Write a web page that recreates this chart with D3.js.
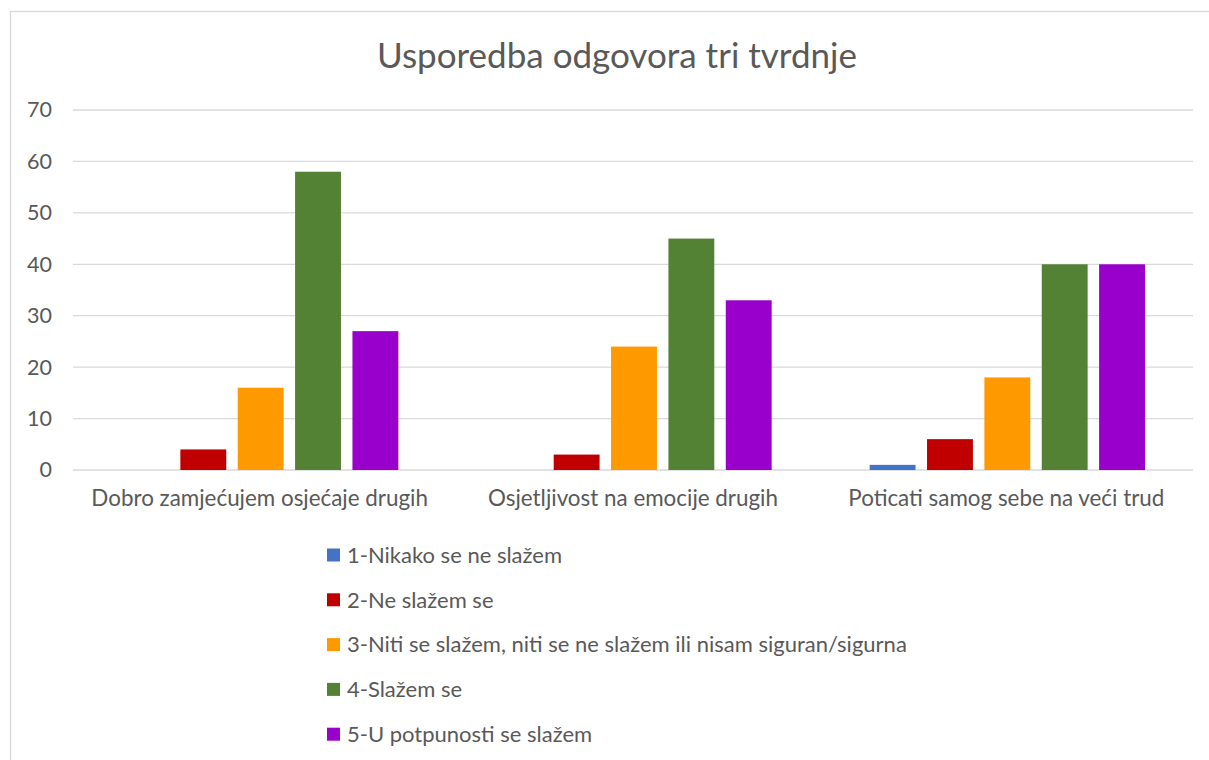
<!DOCTYPE html>
<html>
<head>
<meta charset="utf-8">
<script src="https://cdn.jsdelivr.net/npm/d3@7"></script>
<style>
  body { margin: 0; background: #fff; }
  text { font-family: Lato, "Open Sans", sans-serif; fill: #595959; }
</style>
</head>
<body>
<div id="chart"></div>
<script>
const categories = [
    "Dobro zamjećujem osjećaje drugih",
    "Osjetljivost na emocije drugih",
    "Poticati samog sebe na veći trud"
];
const seriesNames = [
    "1-Nikako se ne slažem",
    "2-Ne slažem se",
    "3-Niti se slažem, niti se ne slažem ili nisam siguran/sigurna",
    "4-Slažem se",
    "5-U potpunosti se slažem"
];
const seriesColors = ["#4472C4", "#C00000", "#FF9900", "#548235", "#9900CC"];
// one array per series, values in category order
const nikako = [0, 0, 1];
const neSlazem = [4, 3, 6];
const niti = [16, 24, 18];
const slazem = [58, 45, 40];
const potpuno = [27, 33, 40];
const yTicks = [0, 10, 20, 30, 40, 50, 60, 70];

const seriesValues = [nikako, neSlazem, niti, slazem, potpuno];

const width = 1209, height = 760;
const plot = { left: 73, right: 1193, top: 110, bottom: 470 };

const svg = d3.select("#chart").append("svg")
    .attr("width", width)
    .attr("height", height);

// chart frame
svg.append("rect")
    .attr("x", 10.5).attr("y", 11.5)
    .attr("width", 1220).attr("height", 800)
    .attr("fill", "none")
    .attr("stroke", "#d9d9d9")
    .attr("stroke-width", 1.3);

svg.append("text")
    .attr("x", 617).attr("y", 68)
    .attr("text-anchor", "middle")
    .style("font-size", "35px")
    .text("Usporedba odgovora tri tvrdnje");

const xScale = d3.scaleBand()
    .domain(categories)
    .range([plot.left, plot.right]);

const xInner = d3.scaleBand()
    .domain(d3.range(seriesNames.length))
    .range([50, xScale.bandwidth() - 48])
    .paddingInner(0.2);

const yScale = d3.scaleLinear()
    .domain([0, 70])
    .range([plot.bottom, plot.top]);

// gridlines
svg.append("g")
    .selectAll("line")
    .data(yTicks)
    .join("line")
    .attr("x1", plot.left).attr("x2", plot.right)
    .attr("y1", d => yScale(d)).attr("y2", d => yScale(d))
    .attr("stroke", "#d9d9d9")
    .attr("stroke-width", 1.3);

const yAxis = d3.axisLeft(yScale).tickValues(yTicks).tickSize(0).tickPadding(0);
svg.append("g")
    .attr("transform", "translate(52,0)")
    .call(yAxis)
    .call(g => g.select(".domain").remove())
    .selectAll("text")
    .style("font-size", "21.5px")
    .attr("fill", "#595959");

const xAxis = d3.axisBottom(xScale).tickSize(0).tickPadding(0);
svg.append("g")
    .attr("transform", `translate(0,${plot.bottom + 20})`)
    .call(xAxis)
    .call(g => g.select(".domain").remove())
    .selectAll("text")
    .style("font-size", "22.4px")
    .attr("fill", "#595959");

// bars
const groups = svg.append("g")
    .selectAll("g")
    .data(categories)
    .join("g")
    .attr("transform", d => `translate(${xScale(d)},0)`);

groups.selectAll("rect")
    .data((c, ci) => seriesValues.map((vals, si) => ({ si, v: vals[ci] })))
    .join("rect")
    .attr("x", d => xInner(d.si))
    .attr("width", xInner.bandwidth())
    .attr("y", d => yScale(d.v))
    .attr("height", d => yScale(0) - yScale(d.v))
    .attr("fill", d => seriesColors[d.si]);

// legend
const legend = svg.append("g")
    .attr("transform", "translate(327,555)");

const items = legend.selectAll("g")
    .data(seriesNames)
    .join("g")
    .attr("transform", (d, i) => `translate(0,${i * 44.8})`);

items.append("rect")
    .attr("x", 0).attr("y", -6.5)
    .attr("width", 13).attr("height", 13)
    .attr("fill", (d, i) => seriesColors[i]);

items.append("text")
    .attr("x", 20).attr("y", 0)
    .attr("dy", "0.35em")
    .style("font-size", "22px")
    .text(d => d);
</script>
</body>
</html>
